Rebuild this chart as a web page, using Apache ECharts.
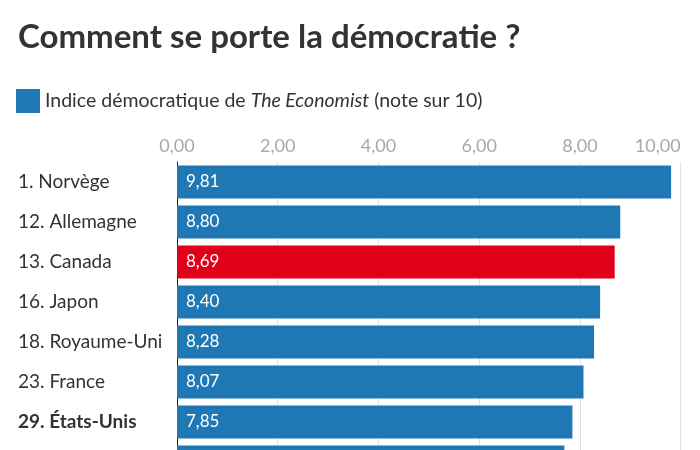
<!DOCTYPE html>
<html>
<head>
<meta charset="utf-8">
<script src="https://cdn.jsdelivr.net/npm/echarts@6/dist/echarts.min.js"></script>
<style>
html,body{margin:0;padding:0;background:#fff;}
#chart{width:700px;height:450px;}
</style>
</head>
<body>
<div id="chart"></div>
<script>
const categories = ['1. Norvège', '12. Allemagne', '13. Canada', '16. Japon', '18. Royaume-Uni', '23. France', '29. États-Unis', ''];
const values = [9.81, 8.80, 8.69, 8.40, 8.28, 8.07, 7.85, 7.69];
const highlighted = ['13. Canada'];
const boldLabels = ['29. États-Unis'];
const xTicks = [0, 2, 4, 6, 8, 10];

const FONT = 'Lato, "Noto Sans", sans-serif';
const BLUE = '#1f78b4';
const RED = '#e1001a';
const fmt = v => v.toFixed(2).replace('.', ',');

const chart = echarts.init(document.getElementById('chart'), null, {renderer: 'canvas'});
chart.setOption({
  animation: false,
  backgroundColor: '#fff',
  textStyle: {fontFamily: FONT},
  title: {
    text: 'Comment se porte la démocratie ?',
    left: 18, top: 21, padding: 0,
    textStyle: {fontFamily: FONT, fontSize: 33, fontWeight: 'bold', color: '#333'}
  },
  legend: {
    left: 16, top: 89, padding: 0,
    icon: 'rect', itemWidth: 24, itemHeight: 24,
    data: ['Indice démocratique de The Economist (note sur 10)'],
    formatter: () => '{a|Indice démocratique de }{b|The Economist}{a| (note sur 10)}',
    textStyle: {
      fontFamily: FONT, fontSize: 19.5, color: '#333',
      rich: {
        a: {fontFamily: FONT, fontSize: 19.5, color: '#333'},
        b: {fontFamily: FONT, fontSize: 19.5, color: '#333', fontStyle: 'italic'}
      }
    }
  },
  grid: {left: 177, width: 503.7, top: 162, height: 320, containLabel: false, outerBoundsMode: 'none'},
  xAxis: {
    type: 'value', position: 'top', min: xTicks[0], max: xTicks[xTicks.length - 1], interval: 2,
    axisLine: {show: false}, axisTick: {show: false},
    splitLine: {show: true, lineStyle: {color: '#e2e2e2', width: 1}},
    axisLabel: {
      formatter: fmt, color: '#a8a8a8', fontSize: 18, fontFamily: FONT, margin: 7,
      alignMaxLabel: 'right'
    }
  },
  yAxis: {
    type: 'category', inverse: true, data: categories,
    axisLine: {show: true, lineStyle: {color: '#222', width: 1}},
    axisTick: {show: false},
    axisLabel: {
      align: 'left', margin: 159, color: '#333', fontSize: 19, fontFamily: FONT,
      formatter: v => boldLabels.includes(v) ? '{b|' + v + '}' : v,
      rich: {b: {fontWeight: 'bold', color: '#333', fontSize: 19, fontFamily: FONT}}
    }
  },
  series: [{
    name: 'Indice démocratique de The Economist (note sur 10)',
    type: 'bar', barWidth: 33,
    itemStyle: {color: BLUE},
    data: values.map((v, i) => ({
      value: v,
      itemStyle: {color: highlighted.includes(categories[i]) ? RED : BLUE}
    })),
    label: {
      show: true, position: 'insideLeft', distance: 9,
      color: '#fff', fontSize: 17, fontFamily: FONT,
      formatter: p => fmt(p.value)
    }
  }]
});
</script>
</body>
</html>
